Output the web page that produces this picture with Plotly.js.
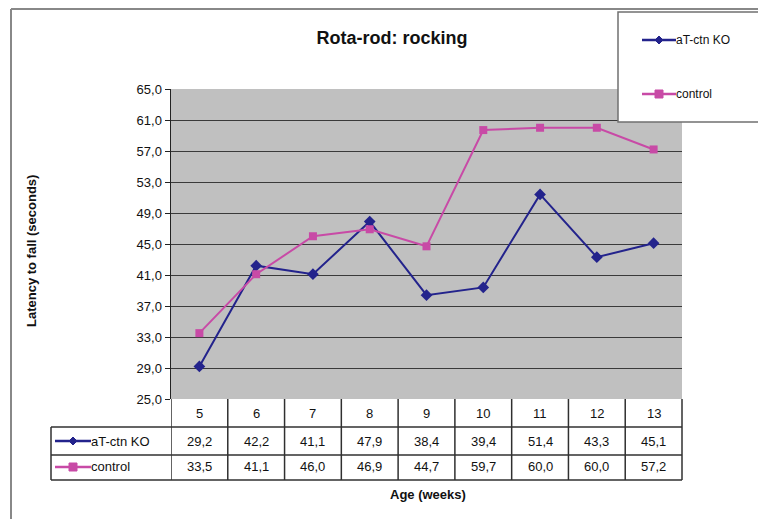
<!DOCTYPE html>
<html><head><meta charset="utf-8">
<script src="https://cdn.plot.ly/plotly-3.0.1.min.js"></script>
<style>html,body{margin:0;padding:0;background:#fff;}#chart{width:758px;height:519px;}</style>
</head><body><div id="chart"></div>
<script>
var weeks = ['5','6','7','8','9','10','11','12','13'];
var koValues = [29.2, 42.2, 41.1, 47.9, 38.4, 39.4, 51.4, 43.3, 45.1];
var controlValues = [33.5, 41.1, 46.0, 46.9, 44.7, 59.7, 60.0, 60.0, 57.2];
var seriesNames = ['aT-ctn KO', 'control'];

var KO_COLOR = '#23238c';
var CT_COLOR = '#c84aa6';
var FONT = 'Arial, Liberation Sans, sans-serif';
var TXT = 13;

var L = 171, R = 682, T = 89, B = 399, W = 758, H = 519;
var pw = R - L, ph = B - T;
function px(x){ return (x - L) / pw; }
function py(y){ return (B - y) / ph; }
function fmt(v){ return v.toFixed(1).replace('.', ','); }

var traces = [
  {x: weeks.map(function(_,i){return i;}), y: koValues, name: seriesNames[0], type: 'scatter', mode: 'lines+markers',
   line: {color: KO_COLOR, width: 2}, marker: {symbol: 'diamond', size: 9, color: KO_COLOR}},
  {x: weeks.map(function(_,i){return i;}), y: controlValues, name: seriesNames[1], type: 'scatter', mode: 'lines+markers',
   line: {color: CT_COLOR, width: 2}, marker: {symbol: 'square', size: 8, color: CT_COLOR}}
];

var shapes = [];
var annotations = [];
var lineC = '#303030';
function note(o){ o.showarrow = false; if(!o.xanchor) o.xanchor = 'center'; o.yanchor = 'middle'; annotations.push(o); }
// outer frame
shapes.push({type:'line', xref:'paper', yref:'paper', x0:px(11), x1:px(11), y0:py(9), y1:py(530), line:{color:'#888', width:2}});
shapes.push({type:'line', xref:'paper', yref:'paper', x0:px(11), x1:px(770), y0:py(9), y1:py(9), line:{color:'#888', width:2}});

// table rows
var rowY = [399, 427, 455, 480];
for (var r = 1; r < rowY.length; r++) {
  shapes.push({type:'line', xref:'paper', yref:'paper', x0:px(51), x1:px(R), y0:py(rowY[r]), y1:py(rowY[r]), line:{color:lineC, width:1.5}});
}
shapes.push({type:'line', xref:'paper', yref:'paper', x0:px(R), x1:px(R), y0:py(399), y1:py(480), line:{color:lineC, width:1.5}});
for (var k = 0; k < weeks.length; k++) {
  shapes.push({type:'line', xref:'x', yref:'paper', x0:k-0.5, x1:k-0.5, y0:py(399), y1:py(480), line:{color:lineC, width:1.5}});
}
shapes.push({type:'line', xref:'paper', yref:'paper', x0:px(51), x1:px(51), y0:py(427), y1:py(480), line:{color:lineC, width:1.5}});

// table contents
var rowsVals = [koValues, controlValues];
var rowCenters = [441, 467];
for (var i = 0; i < weeks.length; i++) {
  note({xref:'x', yref:'paper', x:i, y:py(413), text:weeks[i], font:{family:FONT, size:TXT, color:'#111'}});
  for (var s = 0; s < 2; s++) {
    note({xref:'x', yref:'paper', x:i, y:py(rowCenters[s]), text:fmt(rowsVals[s][i]), font:{family:FONT, size:TXT, color:'#111'}});
  }
}

// legend key glyphs (table + legend box)
function keyGlyph(x0, x1, yy, color, isDiamond, label, textX, fs) {
  shapes.push({type:'line', xref:'paper', yref:'paper', x0:px(x0), x1:px(x1), y0:py(yy), y1:py(yy), line:{color:color, width:2.5}});
  var cx = (x0 + x1) / 2;
  if (isDiamond) {
    shapes.push({type:'path', xref:'paper', yref:'paper', fillcolor:color, line:{color:color, width:1},
      path:'M '+px(cx-4)+' '+py(yy)+' L '+px(cx)+' '+py(yy-4)+' L '+px(cx+4)+' '+py(yy)+' L '+px(cx)+' '+py(yy+4)+' Z'});
  } else {
    shapes.push({type:'rect', xref:'paper', yref:'paper', fillcolor:color, line:{color:color, width:1},
      x0:px(cx-4), x1:px(cx+4), y0:py(yy-4), y1:py(yy+4)});
  }
  note({xref:'paper', yref:'paper', x:px(textX), y:py(yy), xanchor:'left', text:label, font:{family:FONT, size:fs, color:'#111'}});
}
keyGlyph(55, 91, 441, KO_COLOR, true, seriesNames[0], 89, TXT);
keyGlyph(55, 91, 467, CT_COLOR, false, seriesNames[1], 89, TXT);

// legend box
shapes.push({type:'rect', xref:'paper', yref:'paper', x0:px(618), x1:px(770), y0:py(12), y1:py(122), fillcolor:'#fff', line:{color:'#707070', width:1.5}, layer:'above'});
keyGlyph(642, 676, 40, KO_COLOR, true, seriesNames[0], 674, 12);
keyGlyph(642, 676, 94, CT_COLOR, false, seriesNames[1], 674, 12);

// axis titles
note({xref:'paper', yref:'paper', x:px(31), y:py(251), text:'<b>Latency to fall (seconds)</b>', textangle:-90, font:{family:FONT, size:13, color:'#111'}});
note({xref:'paper', yref:'paper', x:px(428), y:py(494), text:'<b>Age (weeks)</b>', font:{family:FONT, size:13, color:'#111'}});

var layout = {
  width: W, height: H,
  margin: {l: L, r: W - R, t: T, b: H - B, pad: 0},
  paper_bgcolor: '#fff', plot_bgcolor: '#c0c0c0',
  separators: ',.',
  showlegend: false,
  title: {text: '<b>Rota-rod: rocking</b>', xref: 'container', yref: 'container', x: 392/W, y: 1 - 38/H, xanchor: 'center', yanchor: 'middle', font: {family: FONT, size: 18, color: '#111'}},
  xaxis: {type: 'linear', range: [-0.5, 8.5], showticklabels: false, showgrid: false, zeroline: false, ticks: '', showline: false, fixedrange: true},
  yaxis: {range: [25, 65], dtick: 4, tick0: 25, tickformat: '.1f', showgrid: true, gridcolor: '#3a3a3a', gridwidth: 1,
    zeroline: false, showline: true, linecolor: '#222', linewidth: 1.5, ticks: 'outside', ticklen: 5, tickcolor: '#222',
    tickfont: {family: FONT, size: TXT, color: '#111'}, fixedrange: true},
  shapes: shapes,
  annotations: annotations
};

Plotly.newPlot('chart', traces, layout, {displayModeBar: false, staticPlot: true});
</script>
</body></html>
